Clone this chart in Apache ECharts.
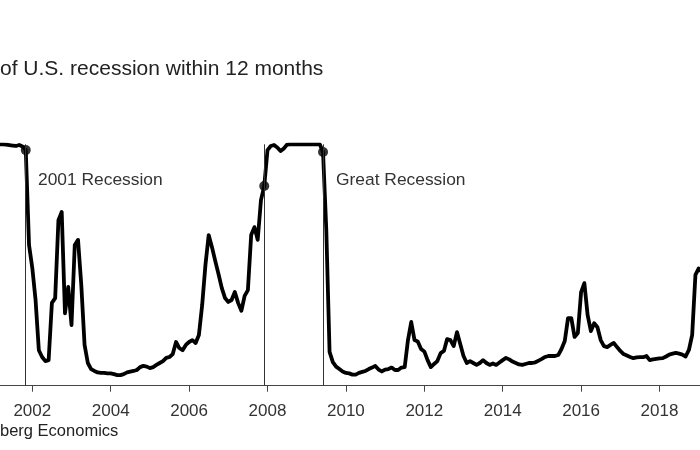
<!DOCTYPE html>
<html>
<head>
<meta charset="utf-8">
<script src="https://cdn.jsdelivr.net/npm/echarts@6/dist/echarts.min.js"></script>
<style>
  html, body { margin: 0; padding: 0; background: #fff; }
  #chart { width: 700px; height: 450px; }
</style>
</head>
<body>
<div id="chart"></div>
<script>
// monthly probability (%) starting Jan 2001
var startYear = 2001;
var probValues = [
  99.7, 99.8, 100, 100, 99.9, 99.7, 99.5, 99.3, 99.7, 99.1, 97.6, 58.3,
  48.8, 35.5, 14.7, 11.9, 10.2, 10.6, 34.3, 36.3, 68.6, 72.0, 30.0, 40.9,
  25.1, 58.3, 60.4, 41.7, 16.9, 9.4, 6.9, 6.1, 5.5, 5.3, 5.3, 5.1,
  5.1, 4.8, 4.4, 4.4, 4.8, 5.5, 5.8, 6.1, 6.5, 7.7, 8.2, 7.9,
  7.3, 7.7, 8.6, 9.4, 10.2, 11.5, 11.9, 13.1, 18.1, 15.6, 14.7, 16.9,
  18.1, 18.9, 17.7, 21.0, 33.4, 50.0, 62.4, 57.4, 51.7, 46.3, 40.5, 36.3,
  34.7, 35.5, 38.8, 34.3, 31.0, 37.2, 39.6, 62.4, 65.7, 60.4, 76.9, 82.7,
  97.6, 99.3, 99.7, 98.7, 97.2, 98.3, 99.9, 100, 100, 100, 100, 100,
  100, 100, 100, 100, 100, 96.8, 64.5, 14.0, 9.8, 7.9, 6.9, 5.9,
  5.3, 5.1, 4.6, 4.6, 5.3, 5.7, 6.1, 6.9, 7.5, 8.2, 6.7, 5.9,
  6.7, 6.9, 7.5, 6.5, 6.5, 7.5, 7.7, 18.9, 26.4, 18.9, 18.3, 15.2,
  14.2, 10.6, 7.7, 9.0, 10.2, 13.5, 14.4, 19.3, 18.9, 16.4, 22.2, 17.3,
  12.3, 9.4, 10.2, 9.4, 8.6, 9.4, 10.6, 9.4, 8.6, 9.2, 8.6, 9.6,
  10.6, 11.5, 10.9, 10.0, 9.4, 8.8, 8.6, 9.0, 9.4, 9.4, 9.7, 10.4,
  11.1, 11.9, 12.3, 12.3, 12.3, 12.7, 15.2, 18.5, 28.0, 28.0, 20.2, 21.8,
  38.8, 42.5, 29.2, 22.6, 25.9, 24.2, 18.9, 16.4, 16.0, 16.9, 17.7, 16.0,
  14.4, 13.1, 12.5, 11.9, 11.4, 11.7, 11.8, 11.8, 12.3, 10.6, 10.9, 11.1,
  11.3, 11.4, 12.1, 12.9, 13.3, 13.6, 13.3, 12.9, 12.1, 14.8, 21.0, 45.9,
  48.6, 47.1
];
// recession start / end months (month index since Jan 2001)
var recessionMonths = [10, 83, 101];
var recessionLabels = ['2001 Recession', '', 'Great Recession'];
var tickYears = [2002, 2004, 2006, 2008, 2010, 2012, 2014, 2016, 2018];

var lineData = probValues.map(function (v, i) {
  return [startYear + i / 12, v];
});
var dotData = recessionMonths.map(function (m) {
  return [startYear + m / 12, probValues[m]];
});
var markLines = recessionMonths.map(function (m) {
  return { xAxis: startYear + m / 12 };
});

var chart = echarts.init(document.getElementById('chart'));
chart.setOption({
  animation: false,
  backgroundColor: '#fff',
  grid: {
    left: -46.1, right: -37.9, top: 144.3, bottom: 64.3,
    containLabel: false, outerBoundsMode: 'none'
  },
  xAxis: {
    type: 'value',
    min: 2000,
    max: 2020,
    interval: 2,
    splitLine: { show: false },
    axisLine: { show: true, lineStyle: { color: '#444', width: 1 } },
    axisTick: { show: true, length: 6, lineStyle: { color: '#444' } },
    axisLabel: {
      color: '#333', fontSize: 17, margin: 17,
      fontFamily: 'Liberation Sans, Arial, sans-serif',
      formatter: function (v) { return tickYears.indexOf(v) >= 0 ? String(v) : ''; }
    }
  },
  yAxis: { type: 'value', min: 0, max: 100, show: false, splitLine: { show: false } },
  graphic: [
    {
      type: 'text', left: 0, top: 59,
      style: { text: 'of U.S. recession within 12 months', fill: '#222', fontSize: 21,
        fontFamily: 'Liberation Sans, Arial, sans-serif' }
    },
    {
      type: 'text', left: 38, top: 172,
      style: { text: recessionLabels[0], fill: '#333', fontSize: 17.4,
        fontFamily: 'Liberation Sans, Arial, sans-serif' }
    },
    {
      type: 'text', left: 336, top: 172,
      style: { text: recessionLabels[2], fill: '#333', fontSize: 17.4,
        fontFamily: 'Liberation Sans, Arial, sans-serif' }
    },
    {
      type: 'text', left: 0, top: 423,
      style: { text: 'berg Economics', fill: '#222', fontSize: 16.5,
        fontFamily: 'Liberation Sans Narrow, Arial Narrow, sans-serif' }
    }
  ],
  series: [
    {
      type: 'line',
      data: lineData,
      showSymbol: false,
      clip: true,
      lineStyle: { color: '#000', width: 3.8, join: 'round' },
      z: 3,
      markLine: {
        silent: true,
        symbol: ['none', 'none'],
        label: { show: false },
        lineStyle: { color: '#333', width: 1, type: 'solid' },
        data: markLines
      }
    },
    {
      type: 'scatter',
      data: dotData,
      symbol: 'circle',
      symbolSize: 10,
      itemStyle: { color: '#000' },
      z: 4
    }
  ]
});
</script>
</body>
</html>
